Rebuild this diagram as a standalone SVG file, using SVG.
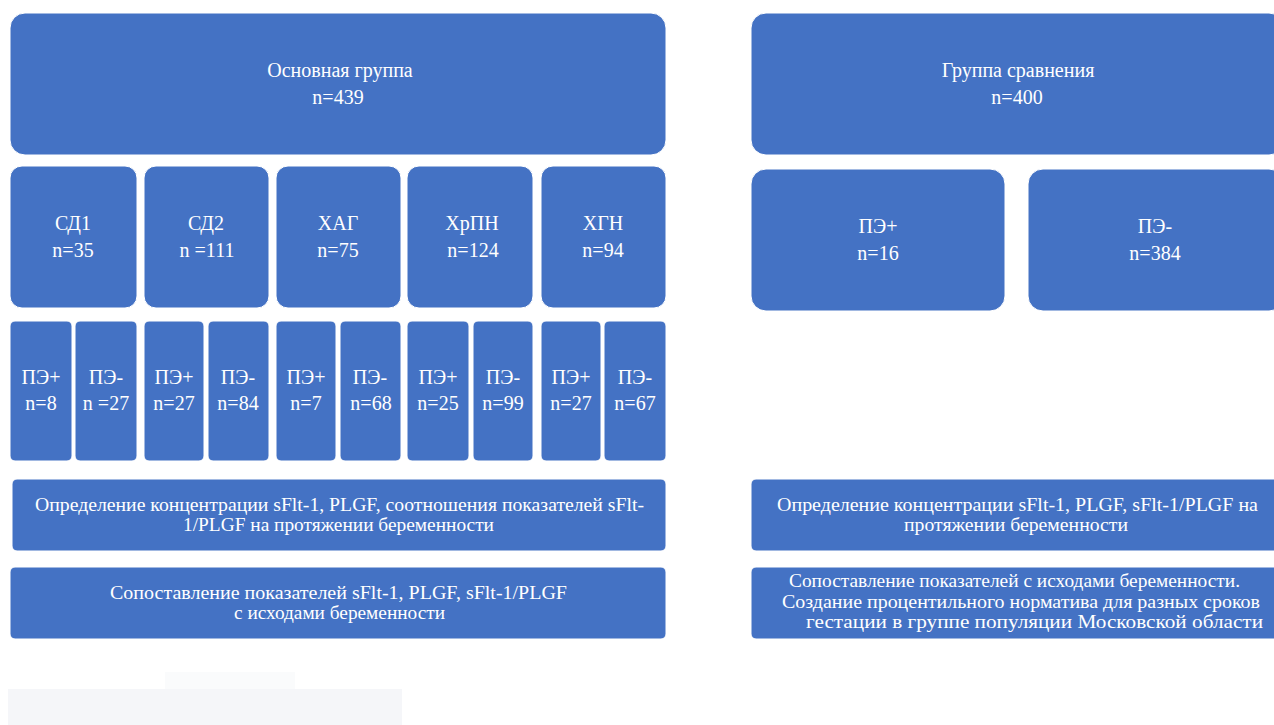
<svg xmlns="http://www.w3.org/2000/svg" width="1274" height="725" viewBox="0 0 1274 725">
<style>
.b{fill:#4472C4;stroke:#ffffff;stroke-width:1}
.t{font-family:"Liberation Serif","Times New Roman",serif;font-size:20px;fill:#ffffff;text-anchor:middle}
.s{font-family:"Liberation Serif","Times New Roman",serif;font-size:19px;fill:#ffffff;text-anchor:middle}
</style>
<rect width="1274" height="725" fill="#ffffff"/>
<g id="artifact">
<rect x="165" y="672" width="130" height="17" fill="#fafbfc"/>
<rect x="8" y="689" width="394" height="36" fill="#f5f6f9"/>
</g>
<g id="connectors"></g>
<g id="main">
<rect class="b" x="10" y="13" width="656" height="142" rx="15"/>
<text class="t" x="340" y="77">Основная группа</text>
<text class="t" x="338" y="104">n=439</text>
</g>
<g id="compare">
<rect class="b" x="751" y="13" width="533" height="142" rx="15"/>
<text class="t" x="1018" y="77">Группа сравнения</text>
<text class="t" x="1017" y="104">n=400</text>
</g>
<g id="sd1"><rect class="b" x="10" y="166" width="127" height="142" rx="12"/><text class="t" x="73" y="230">СД1</text><text class="t" x="73" y="257">n=35</text></g>
<g id="sd2"><rect class="b" x="144" y="166" width="125" height="142" rx="12"/><text class="t" x="206" y="230">СД2</text><text class="t" x="207" y="257">n =111</text></g>
<g id="hag"><rect class="b" x="276" y="166" width="125" height="142" rx="12"/><text class="t" x="338" y="230">ХАГ</text><text class="t" x="338" y="257">n=75</text></g>
<g id="hrpn"><rect class="b" x="407" y="166" width="126" height="142" rx="12"/><text class="t" x="472" y="230">ХрПН</text><text class="t" x="473" y="257">n=124</text></g>
<g id="hgn"><rect class="b" x="541" y="166" width="125" height="142" rx="12"/><text class="t" x="603" y="230">ХГН</text><text class="t" x="603" y="257">n=94</text></g>
<g id="sd1p"><rect class="b" x="10" y="321" width="62" height="140" rx="5"/><text class="t" x="41" y="384">ПЭ+</text><text class="t" x="41" y="410">n=8</text></g>
<g id="sd1m"><rect class="b" x="75" y="321" width="62" height="140" rx="5"/><text class="t" x="106" y="384">ПЭ-</text><text class="t" x="106" y="410">n =27</text></g>
<g id="sd2p"><rect class="b" x="144" y="321" width="60" height="140" rx="5"/><text class="t" x="174" y="384">ПЭ+</text><text class="t" x="174" y="410">n=27</text></g>
<g id="sd2m"><rect class="b" x="208" y="321" width="61" height="140" rx="5"/><text class="t" x="238" y="384">ПЭ-</text><text class="t" x="238" y="410">n=84</text></g>
<g id="hagp"><rect class="b" x="276" y="321" width="60" height="140" rx="5"/><text class="t" x="306" y="384">ПЭ+</text><text class="t" x="306" y="410">n=7</text></g>
<g id="hagm"><rect class="b" x="340" y="321" width="61" height="140" rx="5"/><text class="t" x="370" y="384">ПЭ-</text><text class="t" x="371" y="410">n=68</text></g>
<g id="hrpnp"><rect class="b" x="407" y="321" width="62" height="140" rx="5"/><text class="t" x="438" y="384">ПЭ+</text><text class="t" x="438" y="410">n=25</text></g>
<g id="hrpnm"><rect class="b" x="473" y="321" width="60" height="140" rx="5"/><text class="t" x="503" y="384">ПЭ-</text><text class="t" x="503" y="410">n=99</text></g>
<g id="hgnp"><rect class="b" x="541" y="321" width="60" height="140" rx="5"/><text class="t" x="571" y="384">ПЭ+</text><text class="t" x="571" y="410">n=27</text></g>
<g id="hgnm"><rect class="b" x="604" y="321" width="62" height="140" rx="5"/><text class="t" x="635" y="384">ПЭ-</text><text class="t" x="635" y="410">n=67</text></g>
<g id="cmp_p"><rect class="b" x="751" y="169" width="254" height="142" rx="15"/><text class="t" x="878" y="233">ПЭ+</text><text class="t" x="878" y="260">n=16</text></g>
<g id="cmp_m"><rect class="b" x="1028" y="169" width="256" height="142" rx="15"/><text class="t" x="1155" y="233">ПЭ-</text><text class="t" x="1155" y="260">n=384</text></g>
<g id="left_def"><rect class="b" x="12" y="479" width="654" height="72" rx="5"/>
<text class="s" x="339.5" y="511" textLength="609" lengthAdjust="spacingAndGlyphs">Определение концентрации sFlt-1, PLGF, соотношения показателей  sFlt-</text>
<text class="s" x="338.5" y="531" textLength="311" lengthAdjust="spacingAndGlyphs">1/PLGF на протяжении беременности</text></g>
<g id="left_cmp"><rect class="b" x="10" y="567" width="656" height="72" rx="5"/>
<text class="s" x="338.5" y="599" textLength="457" lengthAdjust="spacingAndGlyphs">Сопоставление показателей sFlt-1,  PLGF,  sFlt-1/PLGF</text>
<text class="s" x="339.5" y="619" textLength="211" lengthAdjust="spacingAndGlyphs">с исходами беременности</text></g>
<g id="right_def"><rect class="b" x="751" y="479" width="533" height="72" rx="5"/>
<text class="s" x="1017.5" y="511" textLength="481" lengthAdjust="spacingAndGlyphs">Определение концентрации sFlt-1,  PLGF,  sFlt-1/PLGF на</text>
<text class="s" x="1016" y="531" textLength="224" lengthAdjust="spacingAndGlyphs">протяжении беременности</text></g>
<g id="right_cmp"><rect class="b" x="751" y="567" width="533" height="72" rx="5"/>
<text class="s" x="1014.5" y="587" textLength="451" lengthAdjust="spacingAndGlyphs">Сопоставление показателей с исходами беременности.</text>
<text class="s" x="1021" y="608" textLength="478" lengthAdjust="spacingAndGlyphs">Создание процентильного норматива для разных сроков</text>
<text class="s" x="1034.5" y="628" textLength="457" lengthAdjust="spacingAndGlyphs">гестации  в группе популяции Московской области</text></g>
</svg>
